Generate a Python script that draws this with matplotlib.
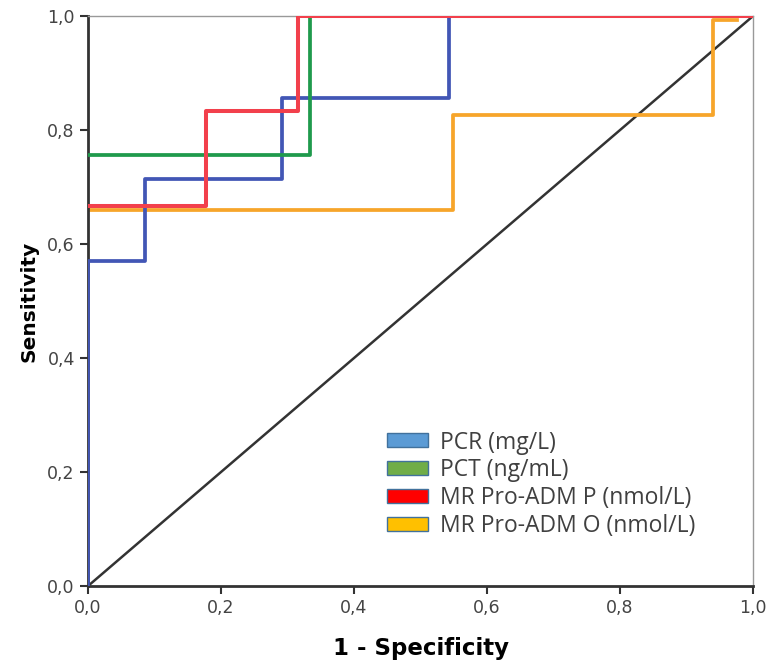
import matplotlib
matplotlib.use("Agg")
from matplotlib import pyplot as plt
from matplotlib.patches import Patch

# ROC step points (1 - specificity, sensitivity)
pcr_x = [0.0, 0.0, 0.085, 0.085, 0.292, 0.292, 0.543, 0.543, 1.0]
pcr_y = [0.0, 0.571, 0.571, 0.714, 0.714, 0.857, 0.857, 1.0, 1.0]

pct_x = [0.0, 0.334, 0.334, 1.0]
pct_y = [0.757, 0.757, 1.0, 1.0]

adm_p_x = [0.0, 0.178, 0.178, 0.316, 0.316, 1.0]
adm_p_y = [0.667, 0.667, 0.833, 0.833, 1.0, 1.0]

adm_o_x = [0.0, 0.549, 0.549, 0.94, 0.94, 0.976]
adm_o_y = [0.66, 0.66, 0.826, 0.826, 0.993, 0.993]

labels = ["PCR (mg/L)", "PCT (ng/mL)", "MR Pro-ADM P (nmol/L)", "MR Pro-ADM O (nmol/L)"]
line_colors = ["#4256b5", "#1f9a4c", "#f2404c", "#f7a52a"]
legend_colors = ["#5b9bd5", "#70ad47", "#ff0000", "#ffc000"]
ticks = [0.0, 0.2, 0.4, 0.6, 0.8, 1.0]
tick_labels = ["0,0", "0,2", "0,4", "0,6", "0,8", "1,0"]

fig = plt.figure(figsize=(7.7, 6.62), dpi=100)
ax = fig.add_axes([0.1143, 0.1148, 0.8637, 0.861])

ax.plot([0, 1], [0, 1], color="#333333", lw=1.8, zorder=1)
ax.plot(adm_o_x, adm_o_y, color=line_colors[3], lw=2.7, zorder=2)
ax.plot(pcr_x, pcr_y, color=line_colors[0], lw=2.7, zorder=3)
ax.plot(pct_x, pct_y, color=line_colors[1], lw=2.7, zorder=4)
ax.plot(adm_p_x, adm_p_y, color=line_colors[2], lw=2.9, zorder=5)

ax.set_xlim(0, 1)
ax.set_ylim(0, 1)
ax.set_xticks(ticks)
ax.set_yticks(ticks)
ax.set_xticklabels(tick_labels)
ax.set_yticklabels(tick_labels)
ax.tick_params(direction="out", length=6, width=1.5, color="#333333",
               labelsize=12.5, labelcolor="#444444")

for side in ["left", "bottom"]:
    ax.spines[side].set_color("#333333")
    ax.spines[side].set_linewidth(2)
for side in ["top", "right"]:
    ax.spines[side].set_color("#999999")
    ax.spines[side].set_linewidth(1)

ax.set_xlabel("1 - Specificity", fontsize=16.5, fontweight="bold", labelpad=14)
ax.set_ylabel("Sensitivity", fontsize=14.5, fontweight="bold", labelpad=6)

handles = [Patch(facecolor=c, edgecolor="#41719c", lw=1) for c in legend_colors]
ax.legend(handles, labels, loc="upper left", bbox_to_anchor=(0.4185, 0.309),
          frameon=False, prop={"family": "Open Sans", "size": 16.5}, handlelength=1.8,
          handleheight=0.55, labelspacing=0.17, handletextpad=0.5,
          labelcolor="#404040")

fig.savefig("out.png", dpi=100)
